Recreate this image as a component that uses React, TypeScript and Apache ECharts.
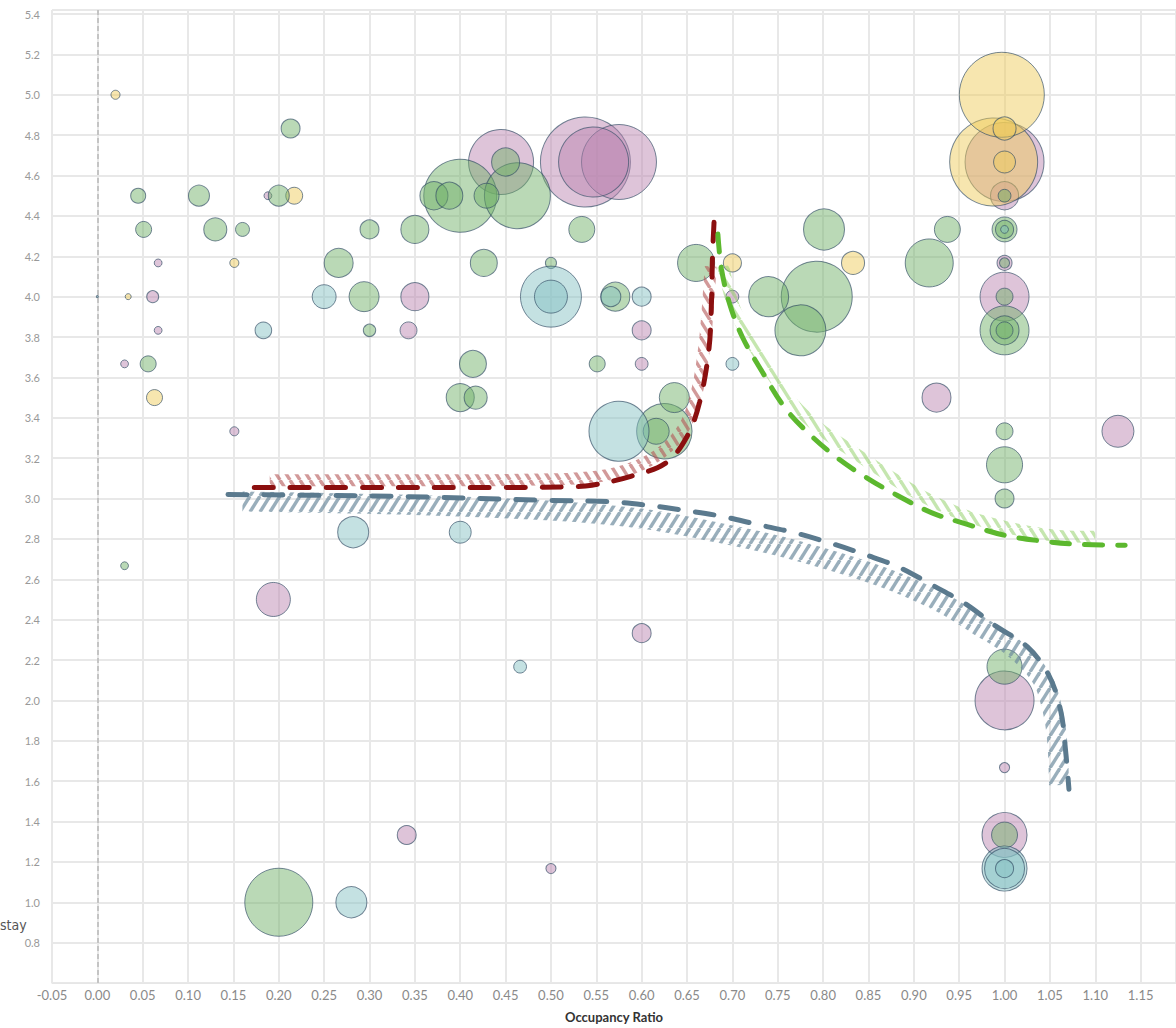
import React, { useEffect, useRef } from "react";
import * as echarts from "echarts";

// [occupancy ratio, average rating, number of reviews]
const pinkPoints = [
  [0.538, 4.667, 791], [0.575, 4.667, 549], [0.547, 4.667, 479], [0.445, 4.667, 413],
  [1.0, 4.667, 609], [1.0, 2.0, 340], [1.0, 4.0, 234], [1.0, 1.333, 198],
  [0.194, 2.5, 113], [1.125, 3.333, 100], [0.925, 3.5, 82], [0.35, 4.0, 77],
  [1.0, 4.5, 77], [0.6, 3.833, 35], [0.6, 2.333, 35], [0.341, 1.333, 35],
  [0.343, 3.833, 28], [1.0, 4.167, 22], [0.6, 3.667, 16], [0.7, 4.0, 16],
  [0.061, 4.0, 14], [0.5, 1.167, 10], [1.0, 1.667, 10], [0.151, 3.333, 8],
  [0.188, 4.5, 6], [0.067, 4.167, 6], [0.067, 3.833, 6], [0.03, 3.667, 6],
];

const yellowPoints = [
  [0.988, 4.667, 756], [0.997, 5.0, 706], [0.833, 4.167, 52], [1.0, 4.833, 52],
  [1.0, 4.667, 47], [0.7, 4.167, 32], [0.217, 4.5, 28], [0.063, 3.5, 25],
  [0.02, 5.0, 8], [0.151, 4.167, 8], [0.034, 4.0, 3.5],
];

const greenPoints = [
  [0.4, 4.5, 520], [0.793, 4.0, 492], [0.2, 1.0, 452], [0.463, 4.5, 425],
  [0.625, 3.333, 300], [0.775, 3.833, 254], [1.0, 3.833, 234], [0.917, 4.167, 225],
  [0.801, 4.333, 164], [0.74, 4.0, 156], [0.66, 4.167, 134], [1.0, 3.167, 127],
  [1.0, 2.167, 120], [0.294, 4.0, 88], [0.636, 3.5, 88], [0.266, 4.167, 82],
  [0.571, 4.0, 82], [1.0, 3.833, 82], [0.35, 4.333, 77], [0.371, 4.5, 77],
  [0.45, 4.667, 77], [0.4, 3.5, 77], [0.388, 4.5, 71], [0.426, 4.167, 71],
  [0.414, 3.667, 71], [0.534, 4.333, 66], [0.616, 3.333, 66], [0.937, 4.333, 66],
  [1.0, 1.333, 66], [0.429, 4.5, 61], [1.0, 4.333, 61], [0.13, 4.333, 52],
  [0.417, 3.5, 52], [0.112, 4.5, 43], [0.2, 4.5, 43], [0.213, 4.833, 35],
  [0.3, 4.333, 35], [1.0, 3.0, 35], [1.0, 4.333, 32], [1.0, 4.0, 28],
  [1.0, 3.833, 28], [1.0, 3.333, 28], [0.051, 4.333, 25], [0.551, 3.667, 25],
  [0.056, 3.667, 25], [0.045, 4.5, 22], [0.16, 4.333, 19], [1.0, 4.5, 16],
  [0.3, 3.833, 15], [0.5, 4.167, 12], [1.0, 4.167, 10], [0.03, 2.667, 6],
];

const tealPoints = [
  [0.5, 4.0, 363], [0.575, 3.333, 352], [1.0, 1.167, 198], [1.0, 1.167, 156],
  [0.5, 4.0, 106], [0.282, 2.833, 94], [0.28, 1.0, 94], [0.25, 4.0, 56],
  [0.4, 2.833, 47], [0.566, 4.0, 39], [0.6, 4.0, 35], [1.0, 1.167, 32],
  [0.183, 3.833, 27], [0.466, 2.167, 16], [0.7, 3.667, 16], [1.0, 4.333, 6],
  [0.0, 4.0, 0.4],
];

// hand-drawn trend curves [x, y]
const redTrend = [
  [0.173, 3.055], [0.3, 3.055], [0.45, 3.055], [0.52, 3.058], [0.545, 3.066],
  [0.588, 3.11], [0.627, 3.177], [0.65, 3.307], [0.664, 3.48], [0.674, 3.734],
  [0.677, 3.98], [0.678, 4.19], [0.68, 4.39],
];
const redBand = [
  [0.19, 3.09], [0.35, 3.09], [0.5, 3.095], [0.56, 3.115], [0.6, 3.17],
  [0.63, 3.26], [0.65, 3.38], [0.662, 3.55], [0.669, 3.75], [0.673, 3.95], [0.676, 4.15],
];
const slateTrend = [
  [0.144, 3.02], [0.334, 3.01], [0.5, 2.99], [0.566, 2.984], [0.606, 2.967],
  [0.646, 2.942], [0.687, 2.913], [0.727, 2.872], [0.768, 2.831], [0.806, 2.782],
  [0.847, 2.721], [0.882, 2.663], [0.922, 2.567], [0.957, 2.478], [0.99, 2.369],
  [1.025, 2.266], [1.049, 2.123], [1.062, 1.946], [1.067, 1.764], [1.071, 1.56],
];
const slateBand = [
  [0.16, 2.985], [0.33, 2.97], [0.5, 2.94], [0.6, 2.9], [0.68, 2.835],
  [0.76, 2.755], [0.863, 2.615], [0.93, 2.485], [0.97, 2.375], [1.01, 2.26],
  [1.041, 2.11], [1.053, 1.95], [1.058, 1.8], [1.06, 1.58],
];
const greenTrend = [
  [0.684, 4.31], [0.688, 4.136], [0.697, 3.964], [0.711, 3.8], [0.733, 3.627],
  [0.757, 3.455], [0.784, 3.323], [0.816, 3.2], [0.849, 3.1], [0.882, 3.015],
  [0.92, 2.929], [0.959, 2.872], [0.999, 2.819], [1.04, 2.79], [1.082, 2.773], [1.133, 2.768],
];
const greenBand = [
  [0.69, 4.15], [0.7, 3.97], [0.715, 3.82], [0.74, 3.64], [0.765, 3.48],
  [0.795, 3.35], [0.83, 3.24], [0.87, 3.12], [0.91, 3.01], [0.96, 2.91],
  [1.01, 2.85], [1.06, 2.815], [1.1, 2.81],
];

const FONT = "Lato, 'Open Sans', sans-serif";
const BORDER = "rgba(52,78,102,0.85)";

function hatch(color: string, dir: number) {
  const w = 10;
  const h = 16;
  const c = document.createElement("canvas");
  c.width = w;
  c.height = h;
  const ctx = c.getContext("2d");
  if (ctx) {
    ctx.strokeStyle = color;
    ctx.lineWidth = 3.4;
    for (const o of [-w, 0, w]) {
      ctx.beginPath();
      if (dir > 0) {
        ctx.moveTo(o, h);
        ctx.lineTo(o + w, 0);
      } else {
        ctx.moveTo(o, 0);
        ctx.lineTo(o + w, h);
      }
      ctx.stroke();
    }
  }
  return { image: c, repeat: "repeat" };
}

function bubble(name: string, data: number[][], fill: string, z: number, extra: any = {}) {
  return {
    name,
    type: "scatter",
    data,
    z,
    symbolSize: (v: number[]) => 3.2 * Math.sqrt(v[2]),
    itemStyle: { color: fill, borderColor: BORDER, borderWidth: 1 },
    silent: true,
    ...extra,
  };
}

function curve(data: number[][], color: any, width: number, dash: any, z: number, cap = "round") {
  return {
    type: "line",
    data,
    z,
    smooth: 0.35,
    showSymbol: false,
    symbol: "none",
    silent: true,
    lineStyle: { color, width, type: dash, cap },
  };
}

export default function App() {
  const ref = useRef<HTMLDivElement>(null);
  useEffect(() => {
    const chart = echarts.init(ref.current!, null, { renderer: "svg" });
    chart.setOption({
      animation: false,
      backgroundColor: "#ffffff",
      grid: { left: 52, right: 0, top: 10, bottom: 41, containLabel: false },
      xAxis: {
        type: "value",
        min: -0.05,
        max: 1.189,
        interval: 0.05,
        name: "Occupancy Ratio",
        nameLocation: "middle",
        nameGap: 27,
        nameTextStyle: { fontWeight: "bold", fontSize: 13, color: "#333", fontFamily: FONT },
        axisLine: { show: true, lineStyle: { color: "#e6e6e6", width: 1 } },
        axisTick: { show: false },
        axisLabel: {
          color: "#8a8a8a",
          fontSize: 13,
          margin: 5,
          fontFamily: FONT,
          showMaxLabel: false,
          formatter: (v: number) => v.toFixed(2),
        },
        splitLine: { show: true, lineStyle: { color: "#e8e8e8", width: 2 } },
      },
      yAxis: {
        type: "value",
        min: 0.6,
        max: 5.42,
        interval: 0.2,
        axisLine: { show: false },
        axisTick: { show: false },
        axisLabel: {
          color: "#999",
          fontSize: 11,
          margin: 12,
          fontFamily: FONT,
          showMinLabel: false,
          showMaxLabel: false,
          formatter: (v: number) => v.toFixed(1),
        },
        splitLine: { show: true, lineStyle: { color: "#e8e8e8", width: 2 } },
      },
      graphic: [
        {
          type: "text",
          left: 0,
          top: 918,
          style: { text: "stay", fontSize: 14, fill: "#555", fontFamily: "'Liberation Sans Narrow', 'DejaVu Sans Condensed', sans-serif" },
        },
      ],
      series: [
        bubble("Pink", pinkPoints, "rgba(185,132,175,0.6)", 2, {
          markLine: {
            silent: true,
            symbol: "none",
            label: { show: false },
            lineStyle: { type: [5, 3], color: "#c4c4c4", width: 2 },
            data: [{ xAxis: 0 }],
          },
        }),
        bubble("Yellow", yellowPoints, "rgba(238,203,87,0.6)", 2),
        bubble("Green", greenPoints, "rgba(110,175,103,0.6)", 2),
        bubble("Teal", tealPoints, "rgba(132,193,195,0.6)", 2),
        curve(redBand, hatch("rgba(180,85,85,0.6)", -1), 12, "solid", 3, "butt"),
        curve(slateBand, hatch("rgba(110,140,158,0.7)", 1), 20, "solid", 3, "butt"),
        curve(greenBand, hatch("rgba(150,210,110,0.55)", -1), 12, "solid", 3, "butt"),
        curve(redTrend, "#8b0f0f", 5, [19, 17], 4),
        curve(slateTrend, "#5b7a8e", 5, [19, 17], 4),
        curve(greenTrend, "#5cb82e", 5, [18, 15], 4),
      ],
    });
    return () => chart.dispose();
  }, []);
  return (
    <div
      ref={ref}
      style={{ position: "fixed", left: 0, top: 0, width: 1176, height: 1028, background: "#fff" }}
    />
  );
}
